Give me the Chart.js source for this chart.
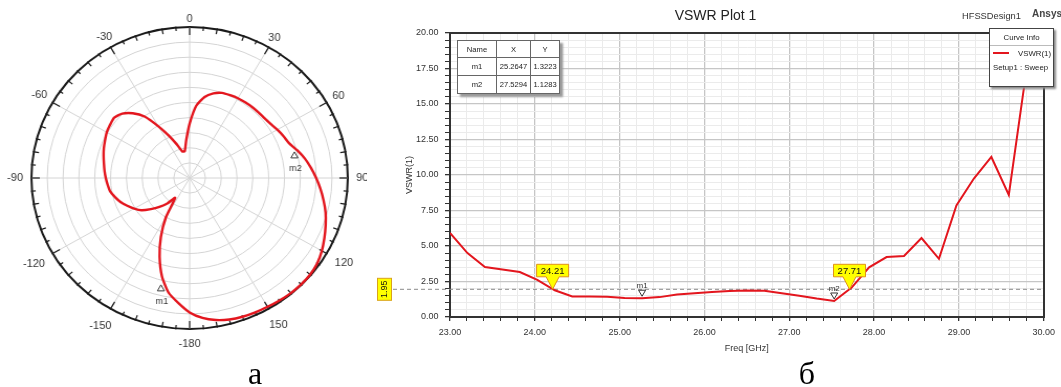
<!DOCTYPE html>
<html>
<head>
<meta charset="utf-8">
<script src="https://cdn.jsdelivr.net/npm/chart.js@4.4.1/dist/chart.umd.min.js"></script>
<style>
html,body{margin:0;padding:0;background:#fff;width:1061px;height:387px;overflow:hidden;font-family:"Liberation Sans",Arial,sans-serif;}
#polarWrap{position:absolute;left:0;top:0;width:350px;height:356px;transform-origin:0 0;}
#lineWrap{position:absolute;left:370px;top:0;width:691px;height:360px;}
.txt{position:absolute;white-space:nowrap;color:#333;}
#curveInfo{position:absolute;left:989px;top:28px;width:63px;height:57px;border:1px solid #444;background:#fff;box-shadow:2px 2px 2px #8a8a8a;font-size:7.8px;color:#222;}
#curveInfo div{position:absolute;white-space:nowrap;}
#mk{position:absolute;left:457px;top:40px;border-collapse:collapse;font-size:7.6px;color:#222;background:#fff;box-shadow:3px 3px 2px #999;border:1px solid #333;}
#mk td{border:1px solid #666;text-align:center;padding:0;height:16px;}
.fig{position:absolute;font-family:"Liberation Serif","Times New Roman",serif;font-size:32px;line-height:32px;width:40px;text-align:center;color:#000;}
</style>
</head>
<body>
<div id="polarWrap"><canvas id="polar" width="350" height="356"></canvas></div>
<div id="lineWrap"><canvas id="line" width="691" height="360"></canvas></div>

<table id="mk"></table>

<div id="curveInfo">
  <div style="left:0;right:0;top:4px;text-align:center;">Curve Info</div>
  <div style="left:0;right:0;top:16px;border-top:1px solid #bbb;height:0;"></div>
  <div id="ciLine" style="left:3px;top:22.5px;width:16px;height:0;border-top:2px solid #e3161e;"></div>
  <div style="right:2px;top:19.5px;">VSWR(1)</div>
  <div style="left:3px;top:33.5px;">Setup1 : Sweep</div>
</div>

<div class="txt" style="left:962px;top:10px;font-size:9.3px;line-height:12px;">HFSSDesign1</div>
<div class="txt" style="left:1032px;top:8px;font-size:10px;line-height:12px;font-weight:bold;color:#444;">Ansys</div>

<div class="fig" style="left:235px;top:357px;">а</div>
<div class="fig" style="left:787px;top:357px;">б</div>

<script>
// ---------------- DATA ----------------
// Polar pattern (left, "а"): angle in degrees (0 at top, clockwise), radius in grid rings (0..10)
const polarAngles = [0,5,10,15,20,25,30,35,40,45,50,55,60,65,70,75,80,85,90,95,100,105,110,115,
  120,125,130,135,140,145,150,155,160,165,170,175,180,185,190,195,200,205,210,215,220,225,230,235,
  240,245,250,255,260,265,270,275,280,285,290,295,300,305,310,315,320,325,330,335,340,345,350,355];
const polarGain = [3.6,4.8,5.45,5.8,6.0,6.05,6.1,6.12,6.14,6.15,6.17,6.25,6.4,6.55,6.7,7.05,7.4,7.7,8.0,8.3,
  8.6,8.9,9.15,9.4,9.65,9.85,9.95,9.97,9.95,9.9,9.85,9.82,9.78,9.7,9.55,9.3,8.9,8.3,7.7,6.75,
  5.55,4.3,3.0,1.6,2.2,2.7,3.2,3.72,4.05,4.35,4.65,4.88,5.1,5.2,5.3,5.4,5.5,5.63,5.77,5.9,
  6.05,6.14,6.22,6.03,5.6,4.97,3.95,3.08,2.37,1.83,1.8,2.5];
const polarTickAngles = [0,30,60,90,120,150,180,210,240,270,300,330];
const polarTickLabels = ['0','30','60','90','120','150','-180','-150','-120','-90','-60','-30'];
const polarMarkerNames = ['m1','m2'];
const polarMarkerAngles = [-166,77];
const polarMarkerRadii = [7.5,6.8];

// VSWR plot (right, "б")
const freqGHz = [23.0000,23.2059,23.4118,23.6176,23.8235,24.0294,24.2353,24.4412,24.6471,24.8529,
  25.0588,25.2647,25.4706,25.6765,25.8824,26.0882,26.2941,26.5000,26.7059,26.9118,
  27.1176,27.3235,27.5294,27.7353,27.9412,28.1471,28.3529,28.5588,28.7647,28.9706,
  29.1765,29.3824,29.5882,29.7941,30.0000];
const vswr = [5.92,4.50,3.52,3.35,3.17,2.62,1.88,1.45,1.45,1.42,
  1.33,1.3223,1.40,1.58,1.68,1.76,1.83,1.86,1.84,1.68,
  1.50,1.30,1.1283,2.07,3.50,4.22,4.30,5.56,4.10,7.85,
  9.75,11.27,8.60,17.3,26.0];
const markerNames = ['m1','m2'];
const markerX = [25.2647,27.5294];
const markerY = [1.3223,1.1283];
const crossLevel = 1.95;
const crossFreqs = [24.21,27.71];
const xTickRange = [23,30];
const yTickRange = [0,20];

// ---------------- STYLE ----------------
const RED = '#e3161e';
const POLAR_SX = 1.0476;
const FONT = '"Liberation Sans", Arial, sans-serif';
Chart.defaults.font.family = FONT;
document.getElementById('polarWrap').style.transform = 'scaleX(' + POLAR_SX + ')';

// marker table
(function(){
  const t = document.getElementById('mk');
  let h = '<tr><td style="width:38px">Name</td><td style="width:33px">X</td><td style="width:28px">Y</td></tr>';
  markerNames.forEach((n,i)=>{
    h += '<tr><td style="height:17px">'+n+'</td><td>'+markerX[i].toFixed(4)+'</td><td>'+markerY[i].toFixed(4)+'</td></tr>';
  });
  t.innerHTML = h;
})();

// ---------------- POLAR ----------------
const polarDeco = {
  id: 'polarDeco',
  beforeDatasetsDraw(chart) {
    const s = chart.scales.r, ctx = chart.ctx, R = s.drawingArea;
    const unit = 360 / polarAngles.length;
    ctx.save();
    ctx.strokeStyle = '#1a1a1a';
    ctx.lineWidth = 1.2;
    for (let a = 0; a < 360; a += 5) {
      const len = a % 30 === 0 ? 8 : (a % 10 === 0 ? 5 : 3.5);
      const p1 = s.getPointPosition(a / unit, R + 1);
      const p2 = s.getPointPosition(a / unit, R - len);
      ctx.beginPath(); ctx.moveTo(p1.x, p1.y); ctx.lineTo(p2.x, p2.y); ctx.stroke();
    }
    ctx.fillStyle = '#333';
    ctx.font = '11px ' + FONT;
    ctx.textAlign = 'center';
    ctx.textBaseline = 'middle';
    polarTickAngles.forEach((a, i) => {
      const t = polarTickLabels[i];
      const rad = a * Math.PI / 180;
      const hw = ctx.measureText(t).width / 2 / POLAR_SX;
      const d = R + 8 + hw * Math.abs(Math.sin(rad)) + 7 * Math.max(0, -Math.cos(rad));
      const p = s.getPointPosition(a / unit, d);
      ctx.save(); ctx.translate(p.x, p.y); ctx.scale(1 / POLAR_SX, 1); ctx.fillText(t, 0, 0); ctx.restore();
    });
    ctx.restore();
  },
  afterDatasetsDraw(chart) {
    const s = chart.scales.r, ctx = chart.ctx;
    const unit = 360 / polarAngles.length;
    ctx.save();
    ctx.strokeStyle = '#333'; ctx.lineWidth = 1; ctx.fillStyle = '#333';
    ctx.font = '9px ' + FONT; ctx.textAlign = 'center'; ctx.textBaseline = 'middle';
    polarMarkerNames.forEach((n, i) => {
      const a = (polarMarkerAngles[i] + 360) % 360;
      const p = s.getPointPositionForValue(a / unit, polarMarkerRadii[i]);
      ctx.save(); ctx.translate(p.x, p.y); ctx.scale(1 / POLAR_SX, 1);
      ctx.beginPath(); ctx.moveTo(-3.5, 3); ctx.lineTo(3.5, 3); ctx.lineTo(0, -3); ctx.closePath(); ctx.stroke();
      ctx.fillText(n, 1, 14);
      ctx.restore();
    });
    ctx.restore();
  }
};

new Chart(document.getElementById('polar'), {
  type: 'radar',
  data: {
    labels: polarAngles.map(String),
    datasets: [{ data: polarGain, borderColor: RED, borderWidth: 2.4, pointRadius: 0, fill: false, tension: 0.2 }]
  },
  options: {
    responsive: false, animation: false,
    layout: { padding: { left: 30, right: 18, top: 27, bottom: 27 } },
    plugins: { legend: { display: false }, tooltip: { enabled: false } },
    scales: {
      r: {
        min: 0, max: 10,
        ticks: { display: false, stepSize: 1 },
        pointLabels: { display: false },
        grid: {
          circular: true,
          color: c => (c.tick && c.tick.value === 10) ? '#1a1a1a' : '#d4d4d4',
          lineWidth: c => (c.tick && c.tick.value === 10) ? 2 : 1
        },
        angleLines: {
          color: '#d4d4d4',
          lineWidth: c => (c.index % 6 === 0) ? 1 : 0
        }
      }
    }
  },
  plugins: [polarDeco]
});

// ---------------- VSWR ----------------
const isMult = (v, m) => Math.abs(v / m - Math.round(v / m)) < 1e-6;
const MAJOR = '#c6c6c6', MINOR = '#ebebeb', AXIS = '#333';

const vswrDeco = {
  id: 'vswrDeco',
  beforeDatasetsDraw(chart) {
    const { ctx, chartArea, scales: { y } } = chart;
    const yy = y.getPixelForValue(crossLevel);
    ctx.save();
    ctx.strokeStyle = '#8a8a8a'; ctx.lineWidth = 1; ctx.setLineDash([4, 3]);
    ctx.beginPath(); ctx.moveTo(23, yy); ctx.lineTo(chartArea.right, yy); ctx.stroke();
    ctx.restore();
  },
  afterDatasetsDraw(chart) {
    const { ctx, scales: { x, y } } = chart;
    const yy = y.getPixelForValue(crossLevel);
    ctx.save();
    // level box on the left
    ctx.fillStyle = '#ffff00'; ctx.strokeStyle = '#d9a21b'; ctx.lineWidth = 1;
    ctx.fillRect(7.5, yy - 11, 14, 22); ctx.strokeRect(7.5, yy - 11, 14, 22);
    ctx.fillStyle = '#111'; ctx.font = '9px ' + FONT; ctx.textAlign = 'center'; ctx.textBaseline = 'middle';
    ctx.save(); ctx.translate(14.5, yy); ctx.rotate(-Math.PI / 2); ctx.fillText(crossLevel.toFixed(2), 0, 0.5); ctx.restore();
    // crossing flags
    crossFreqs.forEach(f => {
      const tx = x.getPixelForValue(f), ty = yy;
      const L = tx - 16, Rr = tx + 16, T = ty - 25, B = ty - 12.5;
      ctx.beginPath();
      ctx.moveTo(L, T); ctx.lineTo(Rr, T); ctx.lineTo(Rr, B); ctx.lineTo(tx + 6.5, B);
      ctx.lineTo(tx, ty); ctx.lineTo(tx - 6.5, B); ctx.lineTo(L, B); ctx.closePath();
      ctx.fillStyle = '#ffff00'; ctx.fill();
      ctx.strokeStyle = '#e0901a'; ctx.stroke();
      ctx.fillStyle = '#111'; ctx.font = '9.5px ' + FONT;
      ctx.fillText(f.toFixed(2), tx, (T + B) / 2 + 0.5);
    });
    // markers
    ctx.strokeStyle = '#333'; ctx.fillStyle = '#333'; ctx.font = '8px ' + FONT;
    markerNames.forEach((n, i) => {
      const px = x.getPixelForValue(markerX[i]), py = y.getPixelForValue(markerY[i]);
      ctx.beginPath(); ctx.moveTo(px - 3.5, py - 8); ctx.lineTo(px + 3.5, py - 8); ctx.lineTo(px, py - 2); ctx.closePath();
      ctx.fillStyle = '#fff'; ctx.fill(); ctx.stroke();
      ctx.fillStyle = '#333'; ctx.fillText(n, px, py - 12.5);
    });
    ctx.restore();
  }
};

new Chart(document.getElementById('line'), {
  type: 'line',
  data: {
    datasets: [{
      data: freqGHz.map((f, i) => ({ x: f, y: vswr[i] })),
      borderColor: RED, borderWidth: 2, pointRadius: 0, fill: false, tension: 0
    }]
  },
  options: {
    responsive: false, animation: false,
    layout: { padding: 0 },
    plugins: {
      legend: { display: false }, tooltip: { enabled: false },
      title: { display: true, text: 'VSWR Plot 1', color: '#222', font: { size: 14, weight: 'normal' }, padding: { top: 8, bottom: 8.2 } }
    },
    scales: {
      x: {
        type: 'linear', min: xTickRange[0], max: xTickRange[1],
        afterFit: s => { s.height = 43; },
        ticks: { stepSize: 0.2, autoSkip: false, maxRotation: 0, color: '#333', font: { size: 9 }, padding: 6,
          callback: v => isMult(v, 1) ? Number(v).toFixed(2) : '' },
        grid: { color: c => isMult(c.tick.value, 1) ? MAJOR : MINOR, lineWidth: c => isMult(c.tick.value, 1) ? 1.3 : 1,
          tickColor: AXIS, tickLength: 4 },
        border: { color: AXIS, width: 2 },
        title: { display: true, text: 'Freq [GHz]', color: '#333', font: { size: 9 }, padding: { top: 2, bottom: 5.6 } }
      },
      y: {
        min: yTickRange[0], max: yTickRange[1],
        afterFit: s => { s.width = 80; },
        ticks: { stepSize: 0.5, autoSkip: false, color: '#333', font: { size: 9 }, padding: 6.5,
          callback: v => isMult(v, 2.5) ? Number(v).toFixed(2) : '' },
        grid: { color: c => isMult(c.tick.value, 2.5) ? MAJOR : MINOR, lineWidth: c => isMult(c.tick.value, 2.5) ? 1.3 : 1,
          tickColor: AXIS, tickLength: 5 },
        border: { color: AXIS, width: 2 },
        title: { display: true, text: 'VSWR(1)', color: '#333', font: { size: 9 }, padding: { top: 34, bottom: 0 } }
      },
      x2: {
        type: 'linear', position: 'top', display: true,
        afterFit: s => { s.height = 0; },
        ticks: { display: false }, grid: { drawOnChartArea: false, drawTicks: false },
        border: { color: AXIS, width: 2 }
      },
      y2: {
        type: 'linear', position: 'right', display: true,
        afterFit: s => { s.width = 13; },
        ticks: { display: false }, grid: { drawOnChartArea: false, drawTicks: false },
        border: { color: AXIS, width: 2 }
      }
    }
  },
  plugins: [vswrDeco]
});
</script>
</body>
</html>
